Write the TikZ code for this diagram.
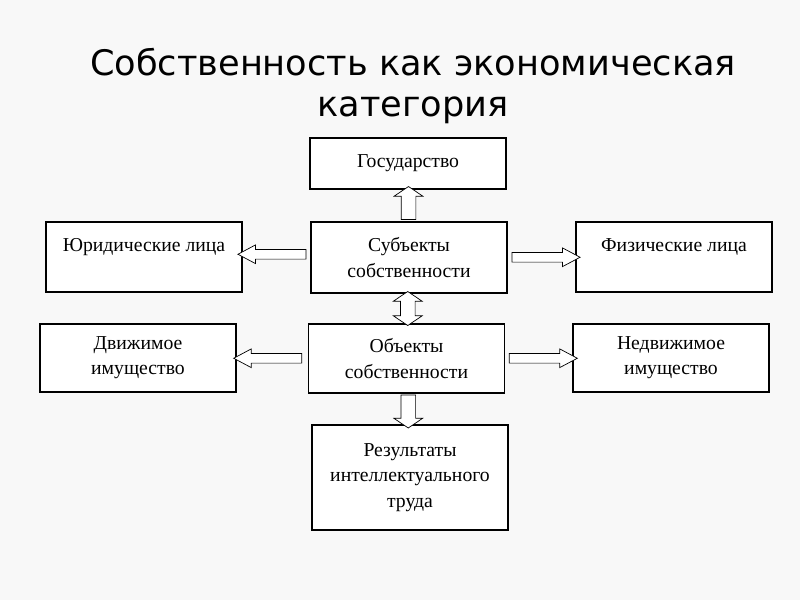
\documentclass[tikz,border=0pt]{standalone}
\usepackage{fontspec}
\setmainfont{Liberation Serif}
\newfontfamily\titlefont{DejaVu Sans}
\usetikzlibrary{shapes.arrows,calc}
\definecolor{slidebg}{HTML}{F8F8F8}

\begin{document}
\begin{tikzpicture}[x=0.025cm,y=-0.025cm,
		catnode/.style={
		% The shape:
		rectangle,
		% The size:
		minimum width=4.9cm,
		% The border:
		draw=black,
		line width=0.9pt,
		% The filling:
		fill=white,
		% Font
		font=\fontsize{14}{18}\selectfont,
		align=center
		},
		sidearrow/.style={
		% The shape:
		single arrow,
		single arrow head extend=0.1125cm,
		single arrow tip angle=56,
		% The size:
		inner sep=0.1125cm,
		minimum height=1.7cm,
		% The border and filling:
		draw=black,
		line width=0.5pt,
		fill=white
		},
		vertarrow/.style={
		single arrow,
		single arrow head extend=0.175cm,
		single arrow tip angle=112,
		inner sep=0.175cm,
		minimum height=0.825cm,
		draw=black,
		line width=0.5pt,
		fill=white
		},
		vertdouble/.style={
		double arrow,
		double arrow head extend=0.175cm,
		double arrow tip angle=112,
		inner sep=0.175cm,
		minimum height=0.85cm,
		draw=black,
		line width=0.5pt,
		fill=white
		}
	]
	% slide background
	\fill[slidebg] (0,0) rectangle (800,600);
	\useasboundingbox (0,0) rectangle (800,600);

	\node (title)[font=\titlefont\fontsize{25}{29.5}\selectfont, align=center] at (413,86) {Собственность как экономическая\\категория};

	\node (gos)[catnode, minimum height=1.275cm] at (408,163.5) {Государство};
	\node (subj)[catnode, minimum height=1.775cm] at (409,257.5) {Субъекты\\собственности};
	\node (obj)[catnode, minimum height=1.725cm] at (406.5,358.5) {Объекты\\собственности};
	\node (res)[catnode, minimum height=2.625cm] at (410,477.5) {Результаты\\интеллектуального\\труда};
	\node (jur)[catnode, minimum height=1.75cm] at (144,257) {Юридические лица\\[-0.2cm]\strut};
	\node (fiz)[catnode, minimum height=1.75cm] at (674,257) {Физические лица\\[-0.2cm]\strut};
	\node (dvi)[catnode, minimum height=1.7cm] at (138,358) {Движимое\\имущество};
	\node (ndv)[catnode, minimum height=1.7cm] at (671,358) {Недвижимое\\имущество};

	% block arrows between the boxes
	\node (gosarrow)[vertarrow, rotate=90] at ($(gos.south)!0.5!(subj.north)$) {};
	\node (linkarrow)[vertdouble, rotate=90] at ($(subj.south)!0.5!(obj.north)$) {};
	\node (resarrow)[vertarrow, rotate=-90] at ($(obj.south)!0.5!(res.north)$) {};
	\node (jurarrow)[sidearrow, rotate=180] at ($(subj.west)!0.5!(jur.east)+(0,-3)$) {};
	\node (fizarrow)[sidearrow] at ($(subj.east)!0.5!(fiz.west)$) {};
	\node (dviarrow)[sidearrow, rotate=180] at ($(obj.west)!0.5!(dvi.east)$) {};
	\node (ndvarrow)[sidearrow] at ($(obj.east)!0.5!(ndv.west)$) {};
\end{tikzpicture}
\end{document}
